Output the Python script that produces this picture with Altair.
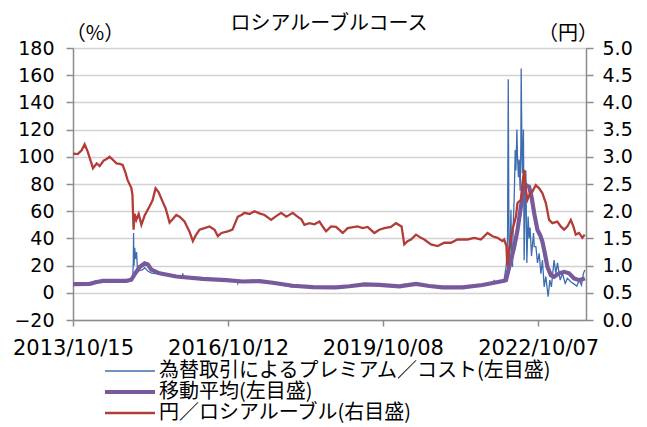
import altair as alt
import pandas as pd

# ---------------- data ----------------
red_dates = ["2013-10-15","2013-11-17","2013-12-15","2014-01-05","2014-01-26","2014-02-17","2014-03-05",
             "2014-03-31","2014-04-21","2014-05-19","2014-06-09","2014-06-30","2014-07-21","2014-08-17",
             "2014-09-09","2014-09-30","2014-10-21","2014-11-04","2014-11-30","2014-12-08","2014-12-16",
             "2014-12-23","2015-01-04","2015-01-21","2015-02-09","2015-03-04","2015-04-08","2015-04-29",
             "2015-05-20","2015-06-10","2015-07-08","2015-07-30","2015-08-27","2015-09-17","2015-10-13",
             "2015-11-05","2015-12-10","2016-01-15","2016-02-07","2016-02-26","2016-03-25","2016-04-29",
             "2016-06-03","2016-07-09","2016-08-01","2016-08-27","2016-10-10","2016-11-12","2016-12-20",
             "2017-01-15","2017-02-05","2017-03-12","2017-04-16","2017-05-21","2017-06-26","2017-08-12",
             "2017-09-11","2017-10-21","2017-11-27","2018-01-11","2018-02-13","2018-03-13","2018-04-03",
             "2018-05-08","2018-06-13","2018-07-18","2018-08-15","2018-09-03","2018-10-08","2018-11-12",
             "2018-12-29","2019-02-02","2019-04-13","2019-05-19","2019-06-23","2019-08-09","2019-09-13",
             "2019-10-18","2019-12-04","2020-01-09","2020-02-17","2020-03-07","2020-03-30","2020-04-23",
             "2020-05-29","2020-07-03","2020-07-26","2020-09-11","2020-10-28","2020-12-14","2021-01-30",
             "2021-03-17","2021-04-10","2021-05-27","2021-07-13","2021-08-29","2021-10-15","2021-11-19",
             "2021-12-24","2022-01-28","2022-02-09","2022-02-25","2022-03-04","2022-03-16","2022-04-09",
             "2022-05-03","2022-05-14","2022-06-07","2022-06-18","2022-06-30","2022-07-12","2022-07-23",
             "2022-08-11","2022-08-27","2022-09-20","2022-10-14","2022-11-06","2022-11-30","2022-12-23",
             "2023-01-15","2023-02-19","2023-03-15","2023-04-08","2023-05-01","2023-05-25","2023-06-12",
             "2023-06-29","2023-07-22","2023-08-14","2023-08-31"]
red_vals = [3.06,3.05,3.12,3.23,3.10,2.92,2.79,
            2.88,2.83,2.93,2.96,3.00,2.95,2.88,
            2.87,2.85,2.70,2.57,2.43,2.30,1.66,
            1.95,1.84,1.95,1.75,1.92,2.09,2.20,
            2.42,2.35,2.18,2.05,1.79,1.85,1.93,
            1.90,1.81,1.62,1.45,1.55,1.66,1.69,
            1.72,1.66,1.54,1.60,1.63,1.66,1.90,
            1.93,1.97,1.95,2.00,1.96,1.93,1.84,
            1.90,1.97,1.90,1.97,1.90,1.85,1.75,
            1.78,1.76,1.81,1.70,1.63,1.72,1.71,
            1.60,1.69,1.72,1.69,1.71,1.60,1.66,
            1.69,1.71,1.78,1.72,1.39,1.45,1.48,
            1.57,1.51,1.48,1.39,1.36,1.42,1.42,
            1.48,1.48,1.48,1.51,1.48,1.60,1.54,
            1.51,1.45,1.48,1.36,0.99,1.30,1.66,
            1.90,2.15,2.21,2.51,2.76,2.39,2.21,
            2.33,2.36,2.48,2.42,2.33,2.15,1.84,
            1.78,1.81,1.72,1.66,1.72,1.84,1.72,
            1.57,1.60,1.51,1.57]

ma_dates = ["2013-10-15","2014-02-10","2014-03-24","2014-05-14","2014-10-26","2014-11-30","2014-12-23",
            "2015-01-28","2015-03-04","2015-03-27","2015-04-20","2015-06-17","2015-10-13","2016-04-17",
            "2016-09-29","2017-01-24","2017-05-21","2017-08-23","2018-01-11","2018-06-01","2018-11-12",
            "2019-02-14","2019-05-31","2019-09-13","2020-02-01","2020-05-29","2020-08-31","2020-12-02",
            "2021-04-22","2021-09-10","2022-02-10","2022-02-22","2022-03-05","2022-03-29","2022-04-21",
            "2022-05-14","2022-06-07","2022-06-25","2022-07-12","2022-08-04","2022-08-21","2022-09-09",
            "2022-10-02","2022-10-21","2022-11-06","2022-11-23","2022-12-11","2023-01-04","2023-01-27",
            "2023-03-04","2023-04-08","2023-05-13","2023-06-17","2023-07-23","2023-08-15","2023-09-01"]
ma_vals = [6.4,6.6,7.8,8.8,8.8,9.6,13.5,
           19.0,21.6,20.8,17.0,14.3,12.0,10.2,
           9.3,8.3,8.6,7.4,5.2,4.2,4.0,
           4.8,6.2,5.8,4.8,6.6,5.0,4.0,
           4.0,5.7,8.9,9.3,14.0,24.0,33.8,
           46.0,63.2,74.3,79.2,77.9,70.6,58.4,
           46.1,42.4,37.5,29.0,19.1,13.0,11.8,
           14.3,15.4,14.3,10.6,9.3,9.9,10.6]

prem_dates = ["2013-10-15","2014-01-05","2014-03-03","2014-03-24","2014-05-14","2014-08-04","2014-10-26",
              "2014-11-18","2014-12-02","2014-12-10","2014-12-14","2014-12-16","2014-12-19","2014-12-24",
              "2014-12-30","2015-01-06","2015-01-12","2015-01-20","2015-02-18","2015-03-04","2015-03-25",
              "2015-04-22","2015-06-17","2015-10-13","2015-11-24","2015-11-28","2015-12-02","2016-04-17",
              "2016-09-29","2016-12-16","2016-12-20","2016-12-24","2017-01-24","2017-05-21","2017-08-23",
              "2017-12-31","2018-06-01","2018-11-12","2019-02-14","2019-05-31","2019-09-13","2020-02-01",
              "2020-03-04","2020-03-07","2020-03-10","2020-05-29","2020-08-31","2020-12-02","2021-04-22",
              "2021-09-10","2021-11-28","2021-12-01","2021-12-05","2022-01-26","2022-02-10","2022-02-24",
              "2022-03-05","2022-03-10","2022-03-14","2022-03-17","2022-03-24","2022-03-29","2022-04-03",
              "2022-04-09","2022-04-14","2022-04-21","2022-04-28","2022-05-03","2022-05-10","2022-05-14",
              "2022-05-21","2022-05-26","2022-06-02","2022-06-07","2022-06-09","2022-06-15","2022-06-18",
              "2022-06-25","2022-06-30","2022-07-07","2022-07-12","2022-07-19","2022-07-28","2022-08-04",
              "2022-08-11","2022-08-21","2022-09-04","2022-09-09","2022-09-21","2022-10-02","2022-10-14",
              "2022-10-26","2022-11-06","2022-11-18","2022-11-30","2022-12-16","2022-12-28","2023-01-08",
              "2023-01-27","2023-02-08","2023-02-20","2023-03-11","2023-03-27","2023-04-15","2023-05-01",
              "2023-05-25","2023-06-17","2023-07-06","2023-07-23","2023-08-08","2023-08-22","2023-09-01"]
prem_vals = [6.4,6.6,7.0,9.0,9.0,9.2,8.6,
             9.5,10.0,11.0,22.0,44.0,20.0,33.0,
             25.0,30.0,18.0,16.0,17.0,18.5,16.0,
             14.5,13.8,11.5,11.2,14.3,11.0,10.0,
             9.0,8.5,6.9,8.4,8.0,8.5,7.0,
             4.4,4.0,3.8,4.6,6.0,5.6,4.6,
             5.0,6.8,5.0,6.4,4.8,3.8,3.8,
             5.5,7.0,9.5,7.0,8.0,10.5,20.0,
             40.0,157.0,60.0,20.0,35.0,61.0,25.0,
             19.0,50.0,70.0,105.0,90.0,120.0,100.0,
             85.0,98.0,75.0,110.0,165.0,100.0,88.0,
             120.0,24.0,66.0,90.0,22.0,56.0,40.0,
             48.0,27.0,44.0,34.0,34.0,22.0,29.0,
             14.0,24.0,4.4,12.0,-2.9,9.3,4.4,
             24.0,14.3,22.0,9.3,14.3,6.9,10.6,
             8.1,6.4,4.9,9.3,5.7,14.3,16.7]

x_tick_dates = [(2013, 10, 15), (2016, 10, 12), (2019, 10, 8), (2022, 10, 7)]
x_domain = [(2013, 10, 15), (2023, 9, 9)]
left_ticks = [-20, 0, 20, 40, 60, 80, 100, 120, 140, 160, 180]
right_ticks = [0.0, 0.5, 1.0, 1.5, 2.0, 2.5, 3.0, 3.5, 4.0, 4.5, 5.0]

title_text = "ロシアルーブルコース"
left_unit = "（%）"
right_unit = "（円）"
legend_labels = ["為替取引によるプレミアム／コスト(左目盛)", "移動平均(左目盛)", "円／ロシアルーブル(右目盛)"]

# ---------------- styles ----------------
BLUE, PURPLE, RED = "#3E6DAF", "#775A9C", "#B13C38"
AXIS_GRAY = "#8C8C8C"
GRID_GRAY = "#D2D2D2"
JP_FONT = "Noto Sans CJK JP"
NUM_FONT = "DejaVu Sans"
W, H = 513, 272


def dt(t):
    return alt.DateTime(year=t[0], month=t[1], date=t[2])


prem_df = pd.DataFrame({"date": pd.to_datetime(prem_dates), "v": prem_vals})
ma_df = pd.DataFrame({"date": pd.to_datetime(ma_dates), "v": ma_vals})
red_df = pd.DataFrame({"date": pd.to_datetime(red_dates), "v": red_vals})

x_enc = alt.X(
    "date:T",
    scale=alt.Scale(domain=[dt(d) for d in x_domain]),
    axis=alt.Axis(
        values=[dt(d) for d in x_tick_dates], format="%Y/%m/%d", title=None, grid=False,
        labelFont=NUM_FONT, labelFontSize=21, labelColor="black", labelPadding=11,
        labelOverlap=False, labelFlush=False, tickSize=6, tickColor=AXIS_GRAY, tickWidth=1.5,
        domainColor=AXIS_GRAY, domainWidth=1.5,
    ),
)

left_axis = alt.Axis(
    values=left_ticks, orient="left", title=None, grid=True, gridColor=GRID_GRAY, gridWidth=1.5,
    labelFont=NUM_FONT, labelFontSize=19, labelColor="black", labelPadding=12,
    tickSize=7, tickColor=AXIS_GRAY, tickWidth=1.5, domainColor=AXIS_GRAY, domainWidth=1.5,
)
left_scale = alt.Scale(domain=[-20, 180], nice=False, zero=False)

prem_line = alt.Chart(prem_df).mark_line(color=BLUE, strokeWidth=1.3).encode(
    x=x_enc, y=alt.Y("v:Q", scale=left_scale, axis=left_axis))
ma_line = alt.Chart(ma_df).mark_line(color=PURPLE, strokeWidth=4.2).encode(
    x=x_enc, y=alt.Y("v:Q", scale=left_scale, axis=left_axis))
left_layer = alt.layer(prem_line, ma_line)

red_line = alt.Chart(red_df).mark_line(color=RED, strokeWidth=2.3).encode(
    x=x_enc,
    y=alt.Y("v:Q", scale=alt.Scale(domain=[0, 5], nice=False, zero=False),
            axis=alt.Axis(values=right_ticks, format=".1f", orient="right", title=None, grid=False,
                          labelFont=NUM_FONT, labelFontSize=19, labelColor="black", labelPadding=9,
                          tickSize=7, tickColor=AXIS_GRAY, tickWidth=1.5,
                          domainColor=AXIS_GRAY, domainWidth=1.5)),
)


def text_layer(txt, x, y, size, align="center"):
    return alt.Chart(pd.DataFrame({"t": [txt]})).mark_text(
        font=JP_FONT, fontSize=size, color="black", align=align, baseline="middle"
    ).encode(text="t:N", x=alt.value(x), y=alt.value(y))


annotations = [
    text_layer(title_text, 256, -24, 20),
    text_layer(left_unit, 22, -14, 20),
    text_layer(right_unit, 495, -14, 20),
]

legend_colors = [BLUE, PURPLE, RED]
legend_widths = [1.3, 4.2, 2.3]
legend_rows = [323, 344, 365]
for lab, col, sw, ry in zip(legend_labels, legend_colors, legend_widths, legend_rows):
    annotations.append(
        alt.Chart(pd.DataFrame({"t": [lab]})).mark_rule(color=col, strokeWidth=sw).encode(
            x=alt.value(32), x2=alt.value(82), y=alt.value(ry))
    )
    annotations.append(text_layer(lab, 86, ry, 20, align="left"))

chart = alt.layer(left_layer, red_line, *annotations).resolve_scale(y="independent").properties(
    width=W, height=H,
    autosize=alt.AutoSizeParams(type="none"),
    padding={"left": 65, "top": 40, "right": 53, "bottom": 107},
    background="white",
).configure_view(stroke=None)

chart.save("out.html", embed_options={"renderer": "svg", "actions": False})
